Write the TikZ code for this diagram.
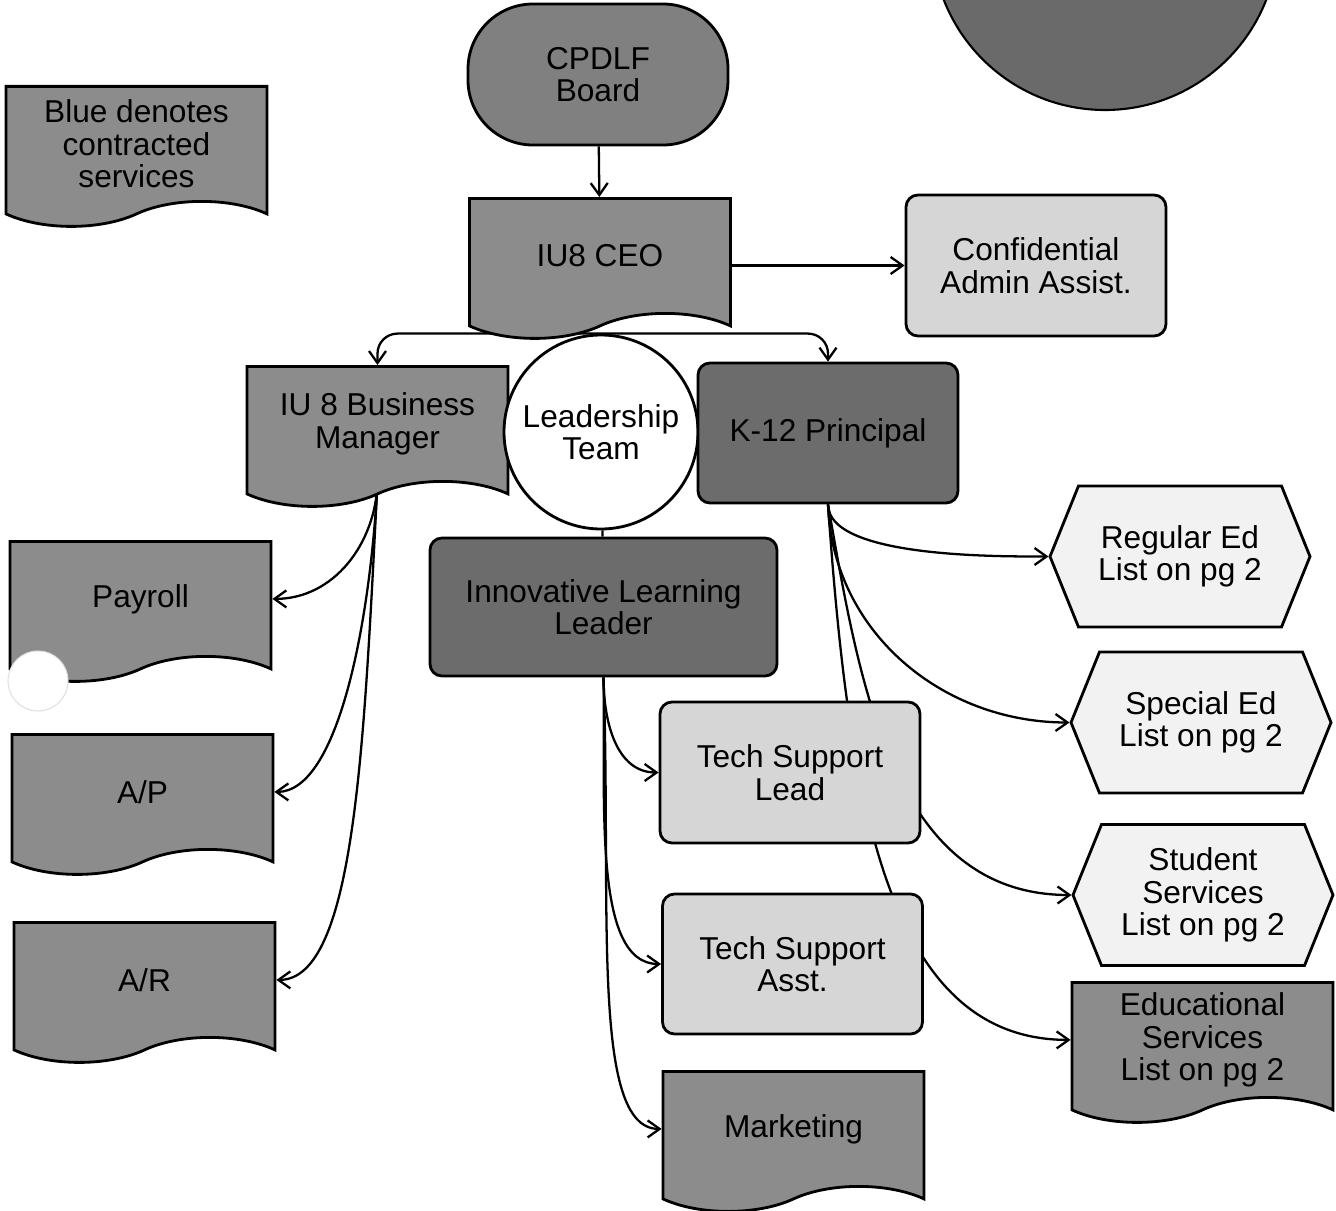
\documentclass[tikz,border=0pt]{standalone}
\usepackage{fontspec}
\setmainfont{Liberation Sans}
\usetikzlibrary{arrows.meta,shapes.symbols,backgrounds}
\definecolor{docfill}{RGB}{140,140,140}
\definecolor{boardfill}{RGB}{128,128,128}
\definecolor{boxdark}{RGB}{108,108,108}
\definecolor{boxlight}{RGB}{214,214,214}
\definecolor{hexfill}{RGB}{242,242,242}
\definecolor{discfill}{RGB}{106,106,106}

\begin{document}
\begin{tikzpicture}[
    every node/.style={font=\fontsize{18}{18.5}\selectfont,align=center},
    docbox/.style={tape,tape bend top=none,tape bend bottom=in and out,
      tape bend height=0.5cm,draw,line width=1.6pt,fill=docfill,
      minimum width=5.22cm,minimum height=2.8cm,anchor=north},
    roundbox/.style={rectangle,rounded corners=0.24cm,draw,line width=1.6pt,
      minimum width=5.2cm,minimum height=2.8cm},
    hexbox/.style={signal,signal to=east and west,signal pointer angle=136,
      draw,line width=1.6pt,fill=hexfill,minimum width=5.2cm,minimum height=2.82cm},
    arr/.style={-{Straight Barb[length=2.4mm,width=3.4mm]},line width=1.3pt}
  ]
  \useasboundingbox (0,0) rectangle (26.72,-24.22);

  % disc cut by the top edge
  \begin{scope}
    \clip (0,0) rectangle (26.72,-24.22);
    \fill[discfill,draw=black,line width=1.2pt] (22.1,1.26) circle (3.46);
  \end{scope}

  % top of the chart
  \node[docbox] (legend) at (2.73,-1.70) {Blue denotes\\contracted\\services};
  \node[roundbox,rounded corners=1.3cm,fill=boardfill,minimum height=2.82cm] (board) at (11.96,-1.49) {CPDLF\\Board};
  \node[docbox] (ceo) at (12.0,-3.94) {IU8 CEO};
  \node[roundbox,fill=boxlight,minimum height=2.82cm] (conf) at (20.72,-5.31) {Confidential\\Admin Assist.};

  % leadership row
  \node[docbox] (bm) at (7.55,-7.30) {IU 8 Business\\Manager};
  \node[circle,draw,line width=1.6pt,fill=white,minimum size=3.88cm,inner sep=0pt] (lead) at (12.02,-8.64) {Leadership\\Team};
  \node[roundbox,fill=boxdark] (k12) at (16.56,-8.66) {K-12 Principal};
  \node[roundbox,fill=boxdark,minimum width=6.94cm,minimum height=2.76cm] (ill) at (12.07,-12.14) {Innovative Learning\\Leader};

  % business office
  \node[docbox] (payroll) at (2.81,-10.80) {Payroll};
  \node[docbox] (ap) at (2.85,-14.66) {A/P};
  \node[docbox] (ar) at (2.89,-18.42) {A/R};

  % learning leader staff
  \node[roundbox,fill=boxlight,minimum height=2.82cm] (tsl) at (15.80,-15.45) {Tech Support\\Lead};
  \node[roundbox,fill=boxlight] (tsa) at (15.85,-19.28) {Tech Support\\Asst.};
  \node[docbox] (mkt) at (15.87,-21.40) {Marketing};

  % principal's programs
  \node[hexbox] (reg) at (23.60,-11.13) {Regular Ed\\List on pg 2};
  \node[hexbox] (spec) at (24.02,-14.45) {Special Ed\\List on pg 2};
  \node[hexbox] (stud) at (24.06,-17.90) {Student\\Services\\List on pg 2};
  \node[docbox] (edu) at (24.05,-19.62) {Educational\\Services\\List on pg 2};

  \begin{scope}[on background layer]
    \draw[arr] (board) -- (ceo);
    \draw[arr] (conf.west -| ceo.east) -- (conf.west);
    \draw[arr,rounded corners=0.4cm] (lead.north) -| (bm.north);
    \draw[arr,rounded corners=0.4cm] (lead.north) -| (k12.north);
    \draw[line width=1.3pt] (lead) -- (ill);

    \draw[arr] (bm.south) to[out=-92,in=0] (payroll.east);
    \draw[arr] (bm.south) to[out=-93,in=0,out looseness=1.1,in looseness=0.5] (ap.east);
    \draw[arr] (bm.south) to[out=-93,in=0,out looseness=1.3,in looseness=0.4] (ar.east);

    \draw[arr] (ill.south) to[out=-90,in=180] (tsl.west);
    \draw[arr] (ill.south) to[out=-89,in=180,out looseness=1.1,in looseness=0.6] (tsa.west);
    \draw[arr] (ill.south) to[out=-88,in=180,out looseness=1.3,in looseness=0.4] (mkt.west);

    \draw[arr] (k12.south) to[out=-90,in=180,looseness=0.6] (reg.west);
    \draw[arr] (k12.south) to[out=-88,in=180] (spec.west);
    \draw[arr] (k12.south) to[out=-80,in=180] (stud.west);
    \draw[arr] (k12.south) to[out=-86,in=180,out looseness=1.3,in looseness=0.8] (edu.west);
  \end{scope}

  % white blot over the payroll corner
  \fill[white,draw=black!12,line width=0.6pt] (0.76,-13.62) circle (0.6);
\end{tikzpicture}
\end{document}
